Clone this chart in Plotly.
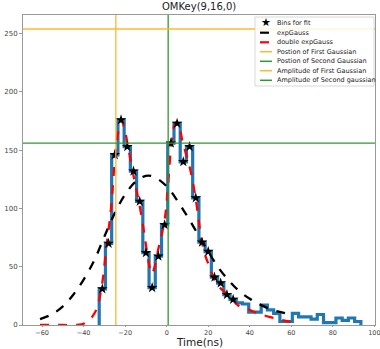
import plotly.graph_objects as go

# ---------------- data ----------------
bin_centers = [-31, -28, -25, -22, -19, -16, -13, -10, -7, -4, -1, 2, 5, 8, 11, 14,
               17, 20, 23, 26, 29, 32, 35, 38, 41, 44, 47, 50, 53, 56, 59, 62, 65,
               68, 71, 74, 77, 80, 83, 86, 89, 92]
bin_counts = [31, 70, 146, 176, 153, 132, 106, 62, 32, 59, 86, 156, 173, 140, 153, 109,
              71, 63, 41, 36, 26, 22, 19, 18, 11, 11, 17, 13, 10, 3, 3, 10, 7,
              7, 5, 9, 2, 2, 6, 4, 6, 3]
bin_width = 3
n_fit_bins = 22  # bins used for the fit (first 22)

expgauss_x = [-61, -55, -50, -45, -40, -35, -30, -25, -20, -15, -10, -6, 0, 5, 10, 15,
              20, 25, 30, 35, 40, 45, 50, 55, 60]
expgauss_y = [5, 9.5, 16, 26, 39, 55, 76, 96, 112, 123, 128, 127, 119, 107, 93, 78,
              63, 49, 38, 29, 22.5, 17.5, 13.5, 11, 9]

double_x = [-61, -50, -45, -41, -38, -35.5, -33.7, -31.3, -28.9, -26.8, -24.9, -23.3,
            -21.8, -20.3, -18.6, -16.2, -13, -10.6, -8.5, -7.2, -5.8, -4.2, -1, 0.6,
            2.2, 3.5, 4.6, 6, 7.8, 11, 13.9, 16.6, 18.5, 20.6, 23.8, 28.6, 31.8, 35,
            39.8, 44, 49.4, 55, 59, 61.4]
double_y = [0, 0, 0, 0.5, 3, 8, 14, 33, 69, 100, 143, 166,
            175.5, 168, 153, 130, 102, 76, 52, 44, 50, 64, 90, 119,
            155, 170, 174, 170, 156, 136, 109, 75, 60, 50, 36, 27, 21.5, 16,
            13, 10, 7, 4.5, 3, 2]

pos_first = -24.5
pos_second = 0.7
amp_first = 254
amp_second = 156

x_range = [-69.2, 100.3]
y_range = [0, 266]
x_ticks = [-60, -40, -20, 0, 20, 40, 60, 80, 100]
y_ticks = [0, 50, 100, 150, 200, 250]

legend_labels = ["Bins for fit", "expGauss", "double expGauss",
                 "Postion of First Gaussian", "Postion of Second Gaussian",
                 "Amplitude of First Gaussian", "Amplitude of Second gaussian"]

BLUE = "#1f77b4"
ORANGE = "#ffb733"
GREEN = "#2e9a2e"

# ---------------- build step outline ----------------
edges = [c - bin_width / 2 for c in bin_centers] + [bin_centers[-1] + bin_width / 2]
step_x = [edges[0]] + edges[:-1] + [edges[-1], edges[-1]]
step_y = [0] + bin_counts + [bin_counts[-1], 0]

fig = go.Figure()

fig.add_trace(go.Scatter(x=step_x, y=step_y, mode="lines", line=dict(color=BLUE, width=3.2, shape="hv"),
                         showlegend=False, hoverinfo="skip"))

fig.add_trace(go.Scatter(x=expgauss_x, y=expgauss_y, mode="lines",
                         line=dict(color="black", width=2.3, dash="dash", shape="spline"),
                         showlegend=False))
fig.add_trace(go.Scatter(x=double_x, y=double_y, mode="lines",
                         line=dict(color="red", width=2.3, dash="dash", shape="spline"),
                         showlegend=False))
fig.add_trace(go.Scatter(x=bin_centers[:n_fit_bins], y=bin_counts[:n_fit_bins], mode="markers",
                         marker=dict(symbol="star", color="black", size=8),
                         showlegend=False))

# vertical / horizontal reference lines
fig.add_trace(go.Scatter(x=[pos_first, pos_first], y=y_range, mode="lines",
                         line=dict(color=ORANGE, width=1.3), showlegend=False))
fig.add_trace(go.Scatter(x=[pos_second, pos_second], y=y_range, mode="lines",
                         line=dict(color=GREEN, width=1.3), showlegend=False))
fig.add_trace(go.Scatter(x=x_range, y=[amp_first, amp_first], mode="lines",
                         line=dict(color=ORANGE, width=1.3), showlegend=False))
fig.add_trace(go.Scatter(x=x_range, y=[amp_second, amp_second], mode="lines",
                         line=dict(color=GREEN, width=1.3), showlegend=False))

# ---------------- custom legend (paper coords) ----------------
W, H = 380, 349
ml, mr, mt, mb = 23, 5, 15, 24
pw, ph = W - ml - mr, H - mt - mb


def px(xp):
    return (xp - ml) / pw


def py(yp):
    return (H - mb - yp) / ph


shapes = []
annotations = []
shapes.append(dict(type="rect", xref="paper", yref="paper",
                   x0=px(255), x1=px(374), y0=py(86), y1=py(17),
                   fillcolor="rgba(255,255,255,0.85)", line=dict(color="#d8d8d8", width=1), layer="above"))
row_y = [23, 32.7, 42.3, 51.7, 61.3, 70.7, 80.3]
styles = [None,
          dict(color="black", width=2.2, dash="dash"),
          dict(color="red", width=2.2, dash="dash"),
          dict(color=ORANGE, width=1.5),
          dict(color=GREEN, width=1.5),
          dict(color=ORANGE, width=1.5),
          dict(color=GREEN, width=1.5)]
for lab, yy, st in zip(legend_labels, row_y, styles):
    if st is None:
        annotations.append(dict(xref="paper", yref="paper", x=px(266), y=py(yy), text="★",
                                showarrow=False, font=dict(size=11, color="black", family="DejaVu Sans"),
                                xanchor="center", yanchor="middle"))
    else:
        shapes.append(dict(type="line", xref="paper", yref="paper", x0=px(260), x1=px(272),
                           y0=py(yy), y1=py(yy), line=st, layer="above"))
    annotations.append(dict(xref="paper", yref="paper", x=px(275), y=py(yy), text=lab,
                            showarrow=False, font=dict(size=6.5, color="#222", family="DejaVu Sans"),
                            xanchor="left", yanchor="middle"))

annotations.append(dict(xref="paper", yref="paper", x=0.5, y=py(7), text="OMKey(9,16,0)",
                        showarrow=False, font=dict(size=10, color="#222", family="DejaVu Sans"),
                        xanchor="center", yanchor="middle"))
annotations.append(dict(xref="paper", yref="paper", x=0.5, y=py(349.4), text="Time(ns)",
                        showarrow=False, borderpad=0,
                        font=dict(size=10.5, color="#222", family="DejaVu Sans"),
                        xanchor="center", yanchor="bottom"))

fig.update_layout(
    width=W, height=H,
    margin=dict(l=ml, r=mr, t=mt, b=mb, autoexpand=False),
    paper_bgcolor="white", plot_bgcolor="white",
    showlegend=False,
    shapes=shapes, annotations=annotations,
    font=dict(family="DejaVu Sans", size=7, color="#444"),
    xaxis=dict(range=x_range, tickvals=x_ticks, showgrid=False, zeroline=False, automargin=False,
               showline=True, linecolor="#999", linewidth=1, mirror=True, ticklabeloverflow="allow",
               ticks="outside", ticklen=1, tickcolor="#999", tickfont=dict(size=6.5, color="#444")),
    yaxis=dict(range=y_range, tickvals=y_ticks, showgrid=False, zeroline=False, automargin=False,
               showline=True, linecolor="#999", linewidth=1, mirror=True,
               ticks="outside", ticklen=3, tickcolor="#999", tickfont=dict(size=7, color="#444")),
)

fig.write_html("out.html")
